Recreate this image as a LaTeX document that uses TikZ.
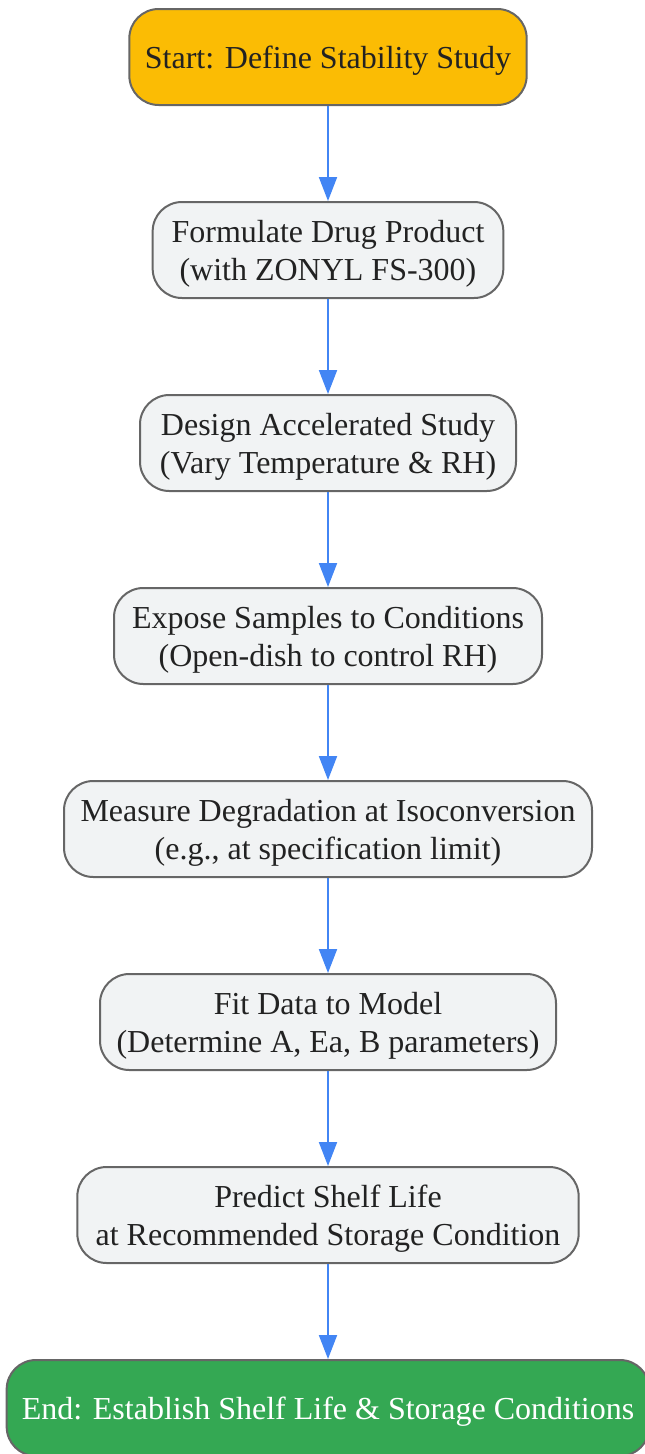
\documentclass[tikz,border=0pt]{standalone}
\usepackage{fontspec}
\setmainfont{Liberation Serif}
\usetikzlibrary{arrows.meta}

\definecolor{startfill}{HTML}{FBBC04}
\definecolor{endfill}{HTML}{34A853}
\definecolor{stepfill}{HTML}{F1F3F4}
\definecolor{stepline}{HTML}{666666}
\definecolor{flowblue}{HTML}{4285F4}
\definecolor{textdark}{HTML}{222222}

\begin{document}
\begin{tikzpicture}[x=0.75pt, y=-0.75pt,
    stepbox/.style={draw=stepline, line width=1.5pt, fill=stepfill, rounded corners=22pt,
        minimum height=72pt, inner sep=0pt, align=center, text=textdark, text depth=-2.5pt,
        font=\fontsize{24}{28.5}\selectfont},
    flow/.style={draw=flowblue, line width=1.5pt, -{Triangle[width=13.5pt, length=18pt]}}]
    \useasboundingbox (0,0) rectangle (645,1454);

    % Início
    \node[stepbox, fill=startfill, minimum width=298pt] (start) at (328,57) {Start: Define Stability Study};

    % Etapas do estudo
    \node[stepbox, minimum width=263pt] (formulate) at (328,250) {Formulate Drug Product\\(with ZONYL FS-300)};
    \node[stepbox, minimum width=282pt] (design) at (328,443) {Design Accelerated Study\\(Vary Temperature \& RH)};
    \node[stepbox, minimum width=321pt] (expose) at (328,636) {Expose Samples to Conditions\\(Open-dish to control RH)};
    \node[stepbox, minimum width=396pt] (measure) at (328,829) {Measure Degradation at Isoconversion\\(e.g., at specification limit)};
    \node[stepbox, minimum width=342pt] (fit) at (328,1022) {Fit Data to Model\\(Determine A, Ea, B parameters)};
    \node[stepbox, minimum width=376pt] (predict) at (328,1215) {Predict Shelf Life\\at Recommended Storage Condition};

    % Fim
    \node[stepbox, fill=endfill, text=white, minimum width=482pt] (finish) at (328,1408) {End: Establish Shelf Life \& Storage Conditions};

    % Setas
    \draw[flow] (start) -- (formulate);
    \draw[flow] (formulate) -- (design);
    \draw[flow] (design) -- (expose);
    \draw[flow] (expose) -- (measure);
    \draw[flow] (measure) -- (fit);
    \draw[flow] (fit) -- (predict);
    \draw[flow] (predict) -- (finish);

\end{tikzpicture}
\end{document}
